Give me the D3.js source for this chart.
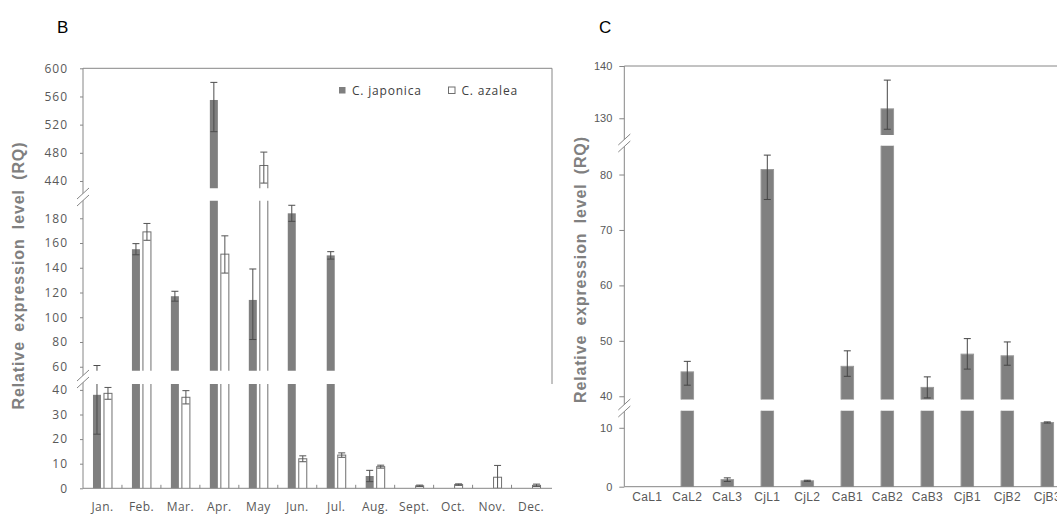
<!DOCTYPE html>
<meta charset="utf-8">
<style>
body { margin: 0; background: #fff; }
.tick text { fill: #595959; }
.tick line { stroke: #868686; }
</style>
<body>
<svg width="1057" height="514"></svg>
<script src="https://cdnjs.cloudflare.com/ajax/libs/d3/7.8.5/d3.min.js"></script>
<script>

// ---- data, panel B ----
var months = ["Jan.", "Feb.", "Mar.", "Apr.", "May", "Jun.", "Jul.", "Aug.", "Sept.", "Oct.", "Nov.", "Dec."];
var japonica      = [38, 155, 117, 555, 114, 184, 150, 5, 0, 0, 0, 0];
var japonicaPlus  = [23, 4.5, 4, 25, 25, 6.5, 3, 2.3, 0, 0, 0, 0];
var japonicaMinus = [16, 4.5, 4, 45, 32, 6.5, 3, 2.3, 0, 0, 0, 0];
var azalea        = [38.6, 169, 37, 151, 462, 12, 13.5, 8.8, 1, 1.5, 4.5, 1.2];
var azaleaPlus    = [2.4, 6.8, 2.7, 14.8, 19, 1.2, 0.9, 0.6, 0.3, 0.3, 4.8, 0.5];
var azaleaMinus   = [2.4, 6.8, 2.7, 15.3, 25, 1.2, 0.9, 0.6, 0.3, 0.3, 4.5, 0.5];
var ticksBLow  = [0, 10, 20, 30, 40];
var ticksBMid  = [60, 80, 100, 120, 140, 160, 180];
var ticksBHigh = [440, 480, 520, 560, 600];

// ---- data, panel C ----
var samples   = ["CaL1", "CaL2", "CaL3", "CjL1", "CjL2", "CaB1", "CaB2", "CaB3", "CjB1", "CjB2", "CjB3"];
var expr      = [0, 44.4, 1.2, 80.9, 1.0, 45.4, 131.8, 41.6, 47.6, 47.3, 10.9];
var exprPlus  = [0, 1.9, 0.3, 2.6, 0.1, 2.8, 5.5, 1.9, 2.8, 2.5, 0.1];
var exprMinus = [0, 2.4, 0.3, 5.4, 0.1, 1.8, 3.9, 1.9, 2.7, 1.7, 0.1];
var ticksCLow  = [0, 10];
var ticksCMid  = [40, 50, 60, 70, 80];
var ticksCHigh = [130, 140];

var svg = d3.select("svg");
var axisColor = "#868686",
    barGrey = "#7f7f7f",
    errColor = "#4d4d4d";

// helper: a broken y axis is a list of segments, each with its own linear scale
function makeSegments(list) {
  return list.map(function(s) {
    return { lo: s[0], hi: s[1], yb: s[2], yt: s[3], ticks: s[4],
             y: d3.scaleLinear().domain([s[0], s[1]]).range([s[2], s[3]]) };
  });
}

function drawBreak(g, x, y) {
  // two slashes with white between them
  g.append("path")
    .attr("d", "M" + (x - 6) + "," + (y + 1) + "L" + (x + 6) + "," + (y - 10) +
               "L" + (x + 6) + "," + (y - 3) + "L" + (x - 6) + "," + (y + 8) + "Z")
    .attr("fill", "#fff");
  [0, 7].forEach(function(o) {
    g.append("line")
      .attr("x1", x - 6).attr("y1", y + 1 + o)
      .attr("x2", x + 6).attr("y2", y - 10 + o)
      .attr("stroke", axisColor).attr("stroke-width", 1);
  });
}

// bars + error bars for one series inside one segment (clipped to the segment)
function drawSeries(g, seg, xs, vals, plus, minus, opt) {
  vals.forEach(function(v, i) {
    var x0 = xs(i);
    if (v > seg.lo) {
      var top = seg.y(v);
      g.append("rect")
        .attr("x", x0).attr("y", top)
        .attr("width", opt.w).attr("height", seg.yb + 3 - top)
        .attr("fill", opt.fill).attr("stroke", opt.stroke).attr("stroke-width", 1);
    }
    if (plus[i] > 0 || minus[i] > 0) {
      var cx = x0 + opt.w / 2,
          y1 = seg.y(v + plus[i]),
          y2 = seg.y(v - minus[i]);
      g.append("line").attr("x1", cx).attr("x2", cx).attr("y1", y1).attr("y2", y2)
        .attr("stroke", opt.err).attr("stroke-width", 1);
      [y1, y2].forEach(function(yy) {
        g.append("line").attr("x1", cx - opt.cap).attr("x2", cx + opt.cap)
          .attr("y1", yy).attr("y2", yy)
          .attr("stroke", opt.err).attr("stroke-width", 1);
      });
    }
  });
}

// =================== PANEL B ===================
var bLeft = 83, bRight = 552, bTop = 68.3, bBottom = 488.3;
var segsB = makeSegments([
  [0, 42.4, 488.3, 384, ticksBLow],
  [56.8, 194.2, 370.7, 200.7, ticksBMid],
  [429.6, 600, 188.3, 68.3, ticksBHigh]
]);
var xB = d3.scaleBand().domain(months).range([bLeft, bRight - 1.5]);
var gB = svg.append("g");

segsB.forEach(function(seg, k) {
  var id = "clipB" + k;
  svg.append("clipPath").attr("id", id).append("rect")
    .attr("x", bLeft).attr("y", seg.yt).attr("width", bRight - bLeft).attr("height", seg.yb - seg.yt);
  var g = gB.append("g").attr("clip-path", "url(#" + id + ")");
  drawSeries(g, seg, function(i) { return xB(months[i]) + xB.bandwidth() / 2 - 9.5; },
    japonica, japonicaPlus, japonicaMinus,
    { w: 8, fill: barGrey, stroke: "none", err: errColor, cap: 3.5 });
  drawSeries(g, seg, function(i) { return xB(months[i]) + xB.bandwidth() / 2 + 1.5; },
    azalea, azaleaPlus, azaleaMinus,
    { w: 8, fill: "#fff", stroke: "#6f6f6f", err: "#555", cap: 3.5 });

  var ax = gB.append("g").attr("transform", "translate(" + bLeft + ",0)")
    .call(d3.axisLeft(seg.y).tickValues(seg.ticks).tickSize(3).tickPadding(12))
    .style("font", "12px 'Open Sans'").style("letter-spacing", "1px");
  ax.select(".domain").remove();
});

// frame and axes
gB.append("line").attr("x1", bLeft).attr("x2", bLeft).attr("y1", bTop).attr("y2", bBottom).attr("stroke", axisColor);
gB.append("line").attr("x1", bLeft).attr("x2", bRight).attr("y1", bTop).attr("y2", bTop).attr("stroke", axisColor);
gB.append("line").attr("x1", bRight).attr("x2", bRight).attr("y1", bTop).attr("y2", 384).attr("stroke", axisColor);
gB.append("line").attr("x1", bLeft).attr("x2", bRight).attr("y1", bBottom).attr("y2", bBottom).attr("stroke", axisColor);
months.forEach(function(m, i) {
  if (i === 0) return;
  gB.append("line").attr("x1", xB(m)).attr("x2", xB(m)).attr("y1", bBottom).attr("y2", bBottom - 3.5).attr("stroke", axisColor);
});
var xaB = gB.append("g").attr("transform", "translate(0," + bBottom + ")")
  .call(d3.axisBottom(xB).tickSize(0).tickPadding(14))
  .style("font", "12px 'Open Sans'").style("letter-spacing", "0.4px");
xaB.select(".domain").remove();

drawBreak(gB, bLeft, 198);
drawBreak(gB, bLeft, 380);

// legend
gB.append("rect").attr("x", 339).attr("y", 87).attr("width", 6.5).attr("height", 6.5).attr("fill", barGrey);
gB.append("text").attr("x", 352).attr("y", 94.5).text("C. japonica")
  .style("font", "12px 'Open Sans'").style("letter-spacing", "0.8px").attr("fill", "#404040");
gB.append("rect").attr("x", 448.5).attr("y", 87).attr("width", 6.5).attr("height", 6.5)
  .attr("fill", "#fff").attr("stroke", "#6f6f6f");
gB.append("text").attr("x", 461.5).attr("y", 94.5).text("C. azalea")
  .style("font", "12px 'Open Sans'").style("letter-spacing", "0.8px").attr("fill", "#404040");

// titles
gB.append("text").attr("transform", "translate(24,276) rotate(-90)")
  .attr("text-anchor", "middle").attr("fill", "#808080")
  .attr("textLength", 267).attr("lengthAdjust", "spacing")
  .style("font", "bold 16px 'Liberation Sans', Arial, sans-serif").style("word-spacing", "4px")
  .text("Relative expression level (RQ)");
svg.append("text").attr("x", 57).attr("y", 33).text("B")
  .style("font", "17px 'Liberation Sans', Arial, sans-serif").attr("fill", "#000");

// =================== PANEL C ===================
var cLeft = 624.3, cTop = 66, cBottom = 486.7, cRight = 1057;
var segsC = makeSegments([
  [0, 12.9, 486.7, 410.7, ticksCLow],
  [39.4, 85.2, 399.6, 145.7, ticksCMid],
  [126.8, 140, 135, 66, ticksCHigh]
]);
var xC = d3.scaleBand().domain(samples).range([627.3, 1067.3]);
var gC = svg.append("g");

segsC.forEach(function(seg, k) {
  var id = "clipC" + k;
  svg.append("clipPath").attr("id", id).append("rect")
    .attr("x", cLeft).attr("y", seg.yt).attr("width", cRight - cLeft).attr("height", seg.yb - seg.yt);
  var g = gC.append("g").attr("clip-path", "url(#" + id + ")");
  drawSeries(g, seg, function(i) { return xC(samples[i]) + xC.bandwidth() / 2 - 6.25; },
    expr, exprPlus, exprMinus,
    { w: 12.5, fill: "#808080", stroke: "#9a9a9a", err: "#454545", cap: 3.5 });

  var ax = gC.append("g").attr("transform", "translate(" + cLeft + ",0)")
    .call(d3.axisLeft(seg.y).tickValues(seg.ticks).tickSize(5).tickPadding(7))
    .style("font", "11px 'Liberation Sans', Arial, sans-serif");
  ax.select(".domain").remove();
});

gC.append("line").attr("x1", cLeft).attr("x2", cLeft).attr("y1", cTop).attr("y2", cBottom).attr("stroke", axisColor);
gC.append("line").attr("x1", cLeft).attr("x2", cRight).attr("y1", cTop).attr("y2", cTop).attr("stroke", axisColor);
gC.append("line").attr("x1", cLeft).attr("x2", cRight).attr("y1", cBottom).attr("y2", cBottom).attr("stroke", axisColor);
var xaC = gC.append("g").attr("transform", "translate(0," + cBottom + ")")
  .call(d3.axisBottom(xC).tickSize(0).tickPadding(6))
  .style("font", "12px 'Liberation Sans', Arial, sans-serif").style("letter-spacing", "0.3px");
xaC.select(".domain").remove();

drawBreak(gC, cLeft, 144);
drawBreak(gC, cLeft, 409);

gC.append("text").attr("transform", "translate(586,270) rotate(-90)")
  .attr("text-anchor", "middle").attr("fill", "#808080")
  .attr("textLength", 266).attr("lengthAdjust", "spacing")
  .style("font", "bold 16px 'Liberation Sans', Arial, sans-serif").style("word-spacing", "4px")
  .text("Relative expression level (RQ)");
svg.append("text").attr("x", 599).attr("y", 33).text("C")
  .style("font", "17px 'Liberation Sans', Arial, sans-serif").attr("fill", "#000");

</script>
</body>
